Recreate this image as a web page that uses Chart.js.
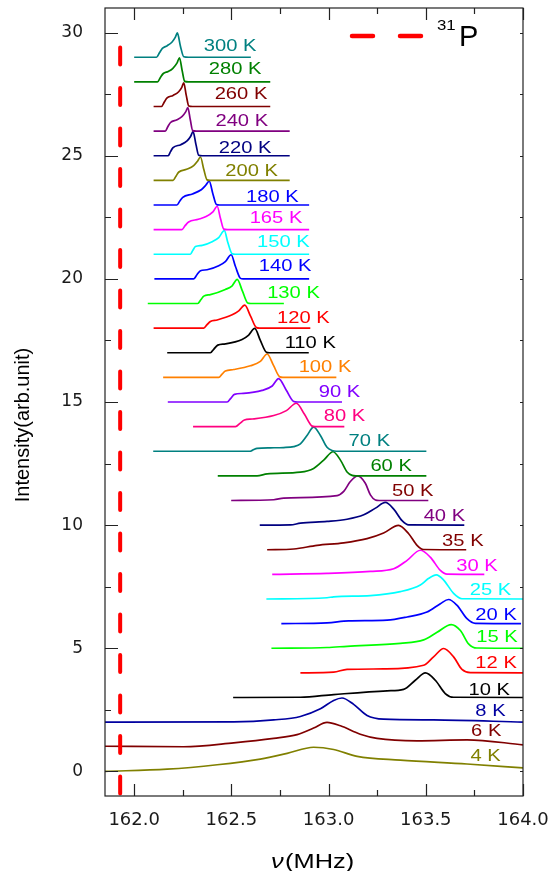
<!DOCTYPE html>
<html>
<head>
<meta charset="utf-8">
<script src="https://cdn.jsdelivr.net/npm/chart.js@4.4.1/dist/chart.umd.min.js"></script>
<style>
  html, body { margin: 0; padding: 0; background: #ffffff; }
  #wrap { width: 558px; height: 871px; }
</style>
</head>
<body>
<div id="wrap"><canvas id="nmr" width="558" height="871"></canvas></div>
<script>
// 31P NMR spectra, stacked by temperature. Each spectrum: [frequency (MHz), intensity above its own baseline]
const temperatures = ['300 K','280 K','260 K','240 K','220 K','200 K','180 K','165 K','150 K','140 K',
                      '130 K','120 K','110 K','100 K','90 K','80 K','70 K','60 K','50 K','40 K',
                      '35 K','30 K','25 K','20 K','15 K','12 K','10 K','8 K','6 K','4 K'];
const baselineOffsets = [29,28,27,26,25,24,23,22,21,20,19,18,17,16,15,14,13,12,11,10,9,8,7,6,5,4,3,2,1,0];

const T300 = [[162.00,0],[162.115,0],[162.13,0.18],[162.145,0.36],[162.17,0.47],[162.195,0.62],[162.212,0.82],[162.222,0.99],[162.238,0.45],[162.255,0.02],[162.28,0],[162.60,0]];
const T280 = [[162.00,0],[162.12,0],[162.135,0.18],[162.15,0.34],[162.175,0.42],[162.198,0.54],[162.22,0.76],[162.233,0.98],[162.247,0.45],[162.26,0.02],[162.28,0],[162.70,0]];
const T260 = [[162.10,0],[162.14,0],[162.155,0.18],[162.168,0.34],[162.20,0.45],[162.229,0.60],[162.245,0.78],[162.255,0.96],[162.268,0.45],[162.281,0.02],[162.30,0],[162.70,0]];
const T240 = [[162.10,0],[162.16,0],[162.173,0.18],[162.187,0.35],[162.22,0.46],[162.247,0.60],[162.265,0.78],[162.276,0.96],[162.289,0.45],[162.301,0.02],[162.32,0],[162.80,0]];
const T220 = [[162.10,0],[162.175,0],[162.187,0.17],[162.20,0.33],[162.24,0.45],[162.272,0.60],[162.29,0.78],[162.303,0.98],[162.318,0.45],[162.332,0.02],[162.35,0],[162.80,0]];
const T200 = [[162.10,0],[162.20,0],[162.215,0.17],[162.23,0.34],[162.27,0.45],[162.306,0.60],[162.326,0.78],[162.341,0.95],[162.358,0.45],[162.375,0.02],[162.39,0],[162.80,0]];
const T180 = [[162.10,0],[162.22,0],[162.235,0.16],[162.25,0.31],[162.30,0.45],[162.345,0.62],[162.368,0.80],[162.386,0.97],[162.405,0.45],[162.423,0.02],[162.44,0],[162.90,0]];
const T165 = [[162.10,0],[162.245,0],[162.262,0.16],[162.28,0.31],[162.33,0.42],[162.37,0.53],[162.405,0.72],[162.427,0.95],[162.444,0.45],[162.461,0.02],[162.48,0],[162.90,0]];
const T150 = [[162.10,0],[162.289,0],[162.302,0.16],[162.315,0.31],[162.35,0.36],[162.401,0.51],[162.435,0.68],[162.464,0.96],[162.481,0.50],[162.504,0.02],[162.52,0],[162.90,0]];
const T140 = [[162.104,0],[162.306,0],[162.323,0.17],[162.341,0.33],[162.375,0.37],[162.435,0.53],[162.469,0.70],[162.499,0.98],[162.521,0.50],[162.547,0.02],[162.56,0],[162.90,0]];
const T130 = [[162.07,0],[162.327,0],[162.343,0.15],[162.358,0.30],[162.392,0.36],[162.469,0.57],[162.504,0.72],[162.53,0.98],[162.557,0.50],[162.584,0.02],[162.60,0],[162.77,0]];
const T120 = [[162.10,0],[162.358,0],[162.375,0.14],[162.392,0.27],[162.427,0.33],[162.504,0.54],[162.538,0.70],[162.569,0.93],[162.598,0.50],[162.629,0.02],[162.645,0],[162.906,0]];
const T110 = [[162.17,0],[162.392,0],[162.41,0.15],[162.43,0.31],[162.469,0.36],[162.555,0.54],[162.589,0.72],[162.62,0.99],[162.649,0.50],[162.68,0.02],[162.695,0],[162.898,0]];
const T100 = [[162.149,0],[162.435,0],[162.452,0.13],[162.469,0.26],[162.512,0.32],[162.598,0.47],[162.649,0.65],[162.684,0.95],[162.716,0.50],[162.749,0.02],[162.765,0],[163.04,0]];
const T90  = [[162.173,0],[162.478,0],[162.497,0.15],[162.516,0.31],[162.562,0.35],[162.658,0.47],[162.71,0.65],[162.743,0.95],[162.781,0.50],[162.821,0.02],[162.84,0],[163.069,0]];
const T80  = [[162.303,0],[162.521,0],[162.544,0.13],[162.567,0.27],[162.608,0.31],[162.718,0.45],[162.783,0.65],[162.834,0.95],[162.876,0.50],[162.915,0.02],[162.93,0],[163.081,0]];
const T70  = [[162.098,0],[162.598,0],[162.615,0.07],[162.632,0.12],[162.70,0.14],[162.769,0.15],[162.821,0.19],[162.855,0.30],[162.889,0.64],[162.923,0.98],[162.958,0.64],[162.992,0.16],[163.018,0.03],[163.04,0],[163.503,0]];
const T60  = [[162.43,0],[162.632,0],[162.684,0.08],[162.855,0.15],[162.923,0.30],[162.975,0.64],[163.023,0.98],[163.061,0.64],[163.095,0.16],[163.121,0.02],[163.14,0],[163.503,0]];
const T50  = [[162.499,0],[162.718,0.03],[162.769,0.10],[163.044,0.20],[163.078,0.37],[163.112,0.77],[163.15,1.00],[163.189,0.70],[163.215,0.23],[163.241,0.02],[163.26,0],[163.513,0]];
const T40  = [[162.646,0],[162.804,0.01],[162.855,0.08],[162.992,0.15],[163.095,0.24],[163.181,0.42],[163.241,0.69],[163.292,0.92],[163.335,0.65],[163.378,0.18],[163.412,0.01],[163.698,0]];
const T35  = [[162.684,0],[162.821,0.03],[162.941,0.18],[163.078,0.28],[163.198,0.45],[163.283,0.68],[163.36,0.99],[163.412,0.65],[163.455,0.18],[163.489,0.01],[163.708,0]];
const T30  = [[162.71,0],[162.992,0.04],[163.215,0.12],[163.335,0.23],[163.404,0.57],[163.472,0.98],[163.523,0.70],[163.575,0.16],[163.609,0.01],[163.801,0]];
const T25  = [[162.68,0],[162.992,0.05],[163.026,0.09],[163.215,0.14],[163.369,0.30],[163.472,0.57],[163.515,0.84],[163.554,0.98],[163.592,0.77],[163.643,0.23],[163.686,0.01],[164.0,0]];
const T20  = [[162.757,0],[162.992,0.03],[163.103,0.11],[163.301,0.14],[163.404,0.27],[163.506,0.47],[163.575,0.81],[163.617,0.98],[163.66,0.75],[163.712,0.20],[163.755,0.01],[163.99,0]];
const T15  = [[162.706,0],[162.992,0.03],[163.095,0.08],[163.369,0.20],[163.489,0.34],[163.558,0.65],[163.631,0.96],[163.678,0.72],[163.72,0.18],[163.763,0.01],[164.0,0]];
const T12  = [[162.855,0],[163.026,0.03],[163.095,0.14],[163.283,0.16],[163.489,0.31],[163.54,0.65],[163.592,0.99],[163.643,0.65],[163.686,0.14],[163.729,0.01],[164.0,0]];
const T10  = [[162.509,0],[162.855,0.01],[163.026,0.12],[163.301,0.27],[163.386,0.33],[163.446,0.70],[163.498,1.00],[163.549,0.70],[163.60,0.16],[163.643,0.01],[164.0,0]];
const T8   = [[161.85,0],[162.512,0.01],[162.718,0.09],[162.855,0.23],[162.958,0.54],[163.026,0.88],[163.069,0.98],[163.129,0.72],[163.198,0.27],[163.283,0.12],[163.54,0.09],[164.0,0]];
const T6   = [[161.85,0.02],[162.255,0],[162.512,0.16],[162.718,0.34],[162.838,0.49],[162.923,0.76],[162.992,0.99],[163.061,0.85],[163.163,0.51],[163.249,0.34],[163.455,0.24],[163.712,0.28],[164.0,0.08]];
const T4   = [[161.85,0],[162.17,0.09],[162.427,0.27],[162.649,0.50],[162.787,0.73],[162.923,0.98],[163.026,0.89],[163.147,0.61],[163.369,0.46],[163.712,0.30],[164.0,0.14]];

const spectra = [T300,T280,T260,T240,T220,T200,T180,T165,T150,T140,T130,T120,T110,T100,T90,T80,
                 T70,T60,T50,T40,T35,T30,T25,T20,T15,T12,T10,T8,T6,T4];

// 31P reference frequency (vertical dashed line)
const refFrequency = 161.928;
const refSpan = [29.4, -1];

// Axis ticks
const xTicks = [162.0, 162.5, 163.0, 163.5, 164.0];
const xMinorTicks = [162.25, 162.75, 163.25, 163.75];
const yTicks = [0, 5, 10, 15, 20, 25, 30];
const yMinorTicks = [2.5, 7.5, 12.5, 17.5, 22.5, 27.5];

// Colours
const lineColors = ['#008080','#008000','#800000','#800080','#000080','#808000','#0000FF','#FF00FF','#00FFFF','#0000FF',
                    '#00FF00','#FF0000','#000000','#FF8000','#8000FF','#FF0080','#008080','#008000','#800080','#000080',
                    '#800000','#FF00FF','#00FFFF','#0000FF','#00FF00','#FF0000','#000000','#0000A0','#800000','#808000'];
const labelColors = ['#008080','#008000','#800000','#800080','#000080','#808000','#0000FF','#FF00FF','#00FFFF','#0000FF',
                     '#00FF00','#FF0000','#000000','#FF8000','#8000FF','#FF0080','#008080','#008000','#800000','#800080',
                     '#800000','#FF00FF','#00FFFF','#0000FF','#00FF00','#FF0000','#000000','#0000A0','#800000','#808000'];

// Where each temperature label sits (left edge, vertical centre) in axis units
const labelAt = [[162.358,29.44],[162.384,28.50],[162.414,27.48],[162.418,26.39],[162.435,25.31],[162.469,24.36],
                 [162.575,23.31],[162.594,22.43],[162.632,21.49],[162.641,20.50],[162.684,19.42],[162.735,18.40],
                 [162.774,17.39],[162.846,16.41],[162.949,15.38],[162.975,14.40],[163.103,13.39],[163.215,12.37],
                 [163.326,11.35],[163.489,10.34],[163.584,9.32],[163.657,8.30],[163.726,7.36],[163.755,6.34],
                 [163.760,5.43],[163.755,4.37],[163.720,3.29],[163.755,2.41],[163.733,1.60],[163.730,0.61]];

const datasets = [{
  label: '31P',
  data: refSpan.map(v => ({ x: refFrequency, y: v })),
  borderColor: '#FF0000',
  borderWidth: 4,
  borderDash: [17, 23.5],
  borderCapStyle: 'round',
  tension: 0,
  cubicInterpolationMode: 'default',
  order: 0
}];
spectra.forEach((pts, i) => {
  datasets.push({
    label: temperatures[i],
    data: pts.map(([f, v]) => ({ x: f, y: v + baselineOffsets[i] })),
    borderColor: lineColors[i],
    borderWidth: 1.7,
    cubicInterpolationMode: 'monotone',
    order: 1
  });
});

const TEXT_FONT = '"Liberation Sans", Arial, sans-serif';

const decorations = {
  id: 'decorations',
  afterDraw(chart) {
    const { ctx, chartArea: a, scales: { x, y } } = chart;
    ctx.save();

    // frame
    ctx.strokeStyle = '#222222';
    ctx.lineWidth = 1.2;
    ctx.strokeRect(a.left, a.top, a.right - a.left, a.bottom - a.top);

    // inward tick marks
    ctx.beginPath();
    const xt = (v, len) => {
      const p = Math.round(x.getPixelForValue(v)) + 0.5;
      ctx.moveTo(p, a.bottom); ctx.lineTo(p, a.bottom - len);
      ctx.moveTo(p, a.top); ctx.lineTo(p, a.top + len);
    };
    xTicks.forEach(v => xt(v, 12));
    xMinorTicks.forEach(v => xt(v, 6));
    const yt = (v, len) => {
      const p = Math.round(y.getPixelForValue(v)) + 0.5;
      ctx.moveTo(a.left, p); ctx.lineTo(a.left + len, p);
      ctx.moveTo(a.right, p); ctx.lineTo(a.right - 3, p);
    };
    yTicks.forEach(v => yt(v, 13));
    yMinorTicks.forEach(v => yt(v, 6));
    ctx.stroke();

    // temperature labels
    ctx.font = '16px ' + TEXT_FONT;
    ctx.textAlign = 'left';
    ctx.textBaseline = 'middle';
    temperatures.forEach((t, i) => {
      const px = x.getPixelForValue(labelAt[i][0]);
      const py = y.getPixelForValue(labelAt[i][1]);
      ctx.save();
      ctx.translate(px, py);
      ctx.scale(1.26, 1);
      ctx.fillStyle = labelColors[i];
      ctx.fillText(t, 0, 0);
      ctx.restore();
    });

    // y axis title
    ctx.save();
    ctx.translate(a.left - 82, (a.top + a.bottom) / 2 + 23);
    ctx.rotate(-Math.PI / 2);
    ctx.font = '20px ' + TEXT_FONT;
    ctx.fillStyle = '#000000';
    ctx.textAlign = 'center';
    ctx.textBaseline = 'middle';
    ctx.fillText('Intensity(arb.unit)', 0, 0);
    ctx.restore();

    // x axis title
    ctx.save();
    ctx.font = 'italic 20px ' + TEXT_FONT;
    const wNu = ctx.measureText('\u03BD').width;
    ctx.font = '20px ' + TEXT_FONT;
    const wRest = ctx.measureText('(MHz)').width;
    const sx = 1.27;
    const cx = (a.left + a.right) / 2 - 2;
    ctx.translate(cx - (wNu + wRest) * sx / 2, a.bottom + 72);
    ctx.scale(sx, 1);
    ctx.fillStyle = '#000000';
    ctx.textAlign = 'left';
    ctx.textBaseline = 'alphabetic';
    ctx.font = 'italic 20px ' + TEXT_FONT;
    ctx.fillText('\u03BD', 0, 0);
    ctx.font = '20px ' + TEXT_FONT;
    ctx.fillText('(MHz)', wNu + 1, 0);
    ctx.restore();

    // legend for the reference line
    ctx.strokeStyle = '#FF0000';
    ctx.lineWidth = 4.5;
    ctx.lineCap = 'round';
    const ly = a.top + 28;
    ctx.beginPath();
    ctx.moveTo(a.right - 171, ly); ctx.lineTo(a.right - 150, ly);
    ctx.moveTo(a.right - 123, ly); ctx.lineTo(a.right - 102, ly);
    ctx.stroke();
    ctx.fillStyle = '#000000';
    ctx.textAlign = 'left';
    ctx.textBaseline = 'alphabetic';
    ctx.save();
    ctx.translate(a.right - 86, a.top + 22);
    ctx.scale(1.2, 1);
    ctx.font = '14px ' + TEXT_FONT;
    ctx.fillText('31', 0, 0);
    ctx.restore();
    ctx.font = '29px ' + TEXT_FONT;
    ctx.fillText('P', a.right - 64, a.top + 38);

    ctx.restore();
  }
};

new Chart(document.getElementById('nmr'), {
  type: 'line',
  data: { datasets },
  options: {
    responsive: false,
    animation: false,
    devicePixelRatio: 1,
    layout: { padding: { left: 0, right: 35, top: 8, bottom: 0 } },
    plugins: { legend: { display: false }, tooltip: { enabled: false } },
    elements: { point: { radius: 0 } },
    scales: {
      x: {
        type: 'linear',
        min: 161.85,
        max: 164.0,
        grid: { display: false, drawTicks: false },
        border: { display: false },
        afterBuildTicks: s => { s.ticks = xTicks.map(v => ({ value: v })); },
        afterFit: s => { s.height = 75; s.paddingLeft = 0; s.paddingRight = 0; },
        ticks: {
          autoSkip: false,
          maxRotation: 0,
          padding: 14,
          color: '#1a1a1a',
          font: { family: 'DejaVu Sans', size: 18 },
          callback: v => Number(v).toFixed(1)
        }
      },
      y: {
        type: 'linear',
        min: -1,
        max: 31,
        grid: { display: false, drawTicks: false },
        border: { display: false },
        afterBuildTicks: s => { s.ticks = yTicks.map(v => ({ value: v })); },
        afterFit: s => { s.width = 105; s.paddingTop = 0; s.paddingBottom = 0; },
        ticks: {
          autoSkip: false,
          padding: 22,
          color: '#1a1a1a',
          font: { family: 'DejaVu Sans', size: 17 },
          callback: v => String(v)
        }
      }
    }
  },
  plugins: [decorations]
});
</script>
</body>
</html>
